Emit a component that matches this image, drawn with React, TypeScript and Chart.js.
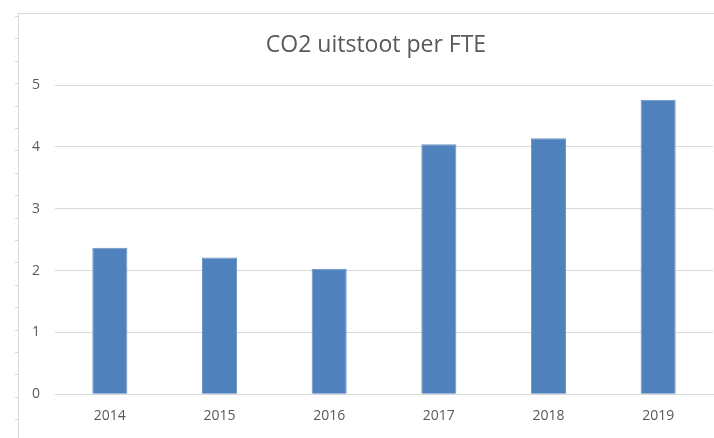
import React, { useEffect, useRef } from "react";
import { Chart, registerables } from "chart.js";

Chart.register(...registerables);

const categories = ["2014", "2015", "2016", "2017", "2018", "2019"];
const co2PerFte = [2.37, 2.21, 2.03, 4.04, 4.14, 4.76];
const yTicks = [0, 1, 2, 3, 4, 5];
const chartTitle = "CO2 uitstoot per FTE";

const FONT = "'Open Sans', 'Noto Sans', sans-serif";
const TEXT = "#595959";

const framePlugin = {
  id: "frame",
  beforeDraw(chart: any) {
    const ctx = chart.ctx;
    const w = chart.width;
    const h = chart.height;
    ctx.save();
    ctx.fillStyle = "#ffffff";
    ctx.fillRect(0, 0, w, h);
    ctx.strokeStyle = "#D9D9D9";
    ctx.lineWidth = 1;
    ctx.beginPath();
    ctx.moveTo(18.5, 13);
    ctx.lineTo(18.5, h);
    ctx.moveTo(18.5, 13.5);
    ctx.lineTo(w, 13.5);
    ctx.stroke();
    ctx.beginPath();
    for (let y = 16; y < h; y += 22.4) {
      const yy = Math.round(y) + 0.5;
      ctx.moveTo(15, yy);
      ctx.lineTo(18, yy);
    }
    ctx.stroke();
    ctx.restore();
  },
  afterDraw(chart: any) {
    const ctx = chart.ctx;
    const ca = chart.chartArea;
    ctx.save();
    ctx.fillStyle = TEXT;
    ctx.font = `23px ${FONT}`;
    ctx.textAlign = "center";
    ctx.textBaseline = "middle";
    ctx.fillText(chartTitle, (ca.left + ca.right) / 2 - 8, 45);
    ctx.restore();
  },
};

export default function App() {
  const ref = useRef<HTMLCanvasElement | null>(null);
  useEffect(() => {
    document.body.style.margin = "0";
    if (!ref.current) return;
    const chart = new Chart(ref.current, {
      type: "bar",
      data: {
        labels: categories,
        datasets: [
          {
            label: chartTitle,
            data: co2PerFte,
            backgroundColor: "#4F81BD",
            borderColor: "#6A93C6",
            borderWidth: 1,
            barPercentage: 0.32,
            categoryPercentage: 1,
          },
        ],
      },
      options: {
        animation: false,
        responsive: false,
        layout: { padding: { top: 85, left: 19, right: 1, bottom: 1 } },
        plugins: {
          legend: { display: false },
          tooltip: { enabled: false },
          title: { display: false },
        },
        scales: {
          x: {
            grid: { display: false, drawTicks: false },
            border: { display: true, color: "#D9D9D9" },
            ticks: { color: TEXT, font: { family: FONT, size: 14 }, padding: 13 },
          },
          y: {
            min: 0,
            max: 5,
            afterBuildTicks(scale: any) {
              scale.ticks = yTicks.map((v) => ({ value: v }));
            },
            afterFit(scale: any) {
              scale.width = 36;
            },
            grid: { color: "#D9D9D9", drawTicks: false },
            border: { display: false },
            ticks: { color: TEXT, font: { family: FONT, size: 14 }, padding: 15 },
          },
        },
      },
      plugins: [framePlugin],
    });
    return () => chart.destroy();
  }, []);
  return (
    <div style={{ position: "absolute", left: 0, top: 0, width: 714, height: 438 }}>
      <canvas ref={ref} width={714} height={438} style={{ width: 714, height: 438 }} />
    </div>
  );
}
